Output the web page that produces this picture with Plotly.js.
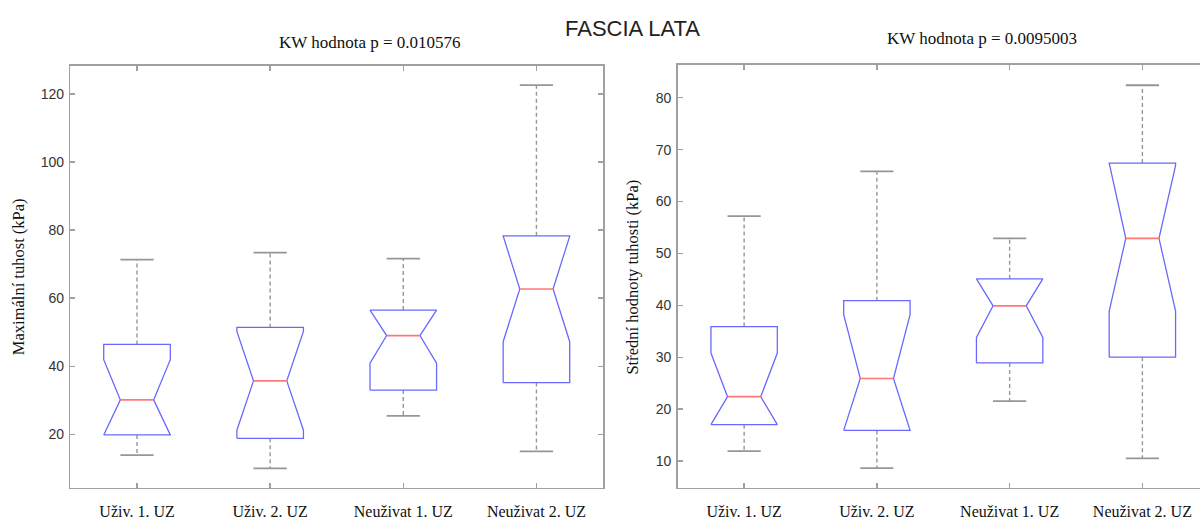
<!DOCTYPE html>
<html>
<head>
<meta charset="utf-8">
<script src="https://cdn.plot.ly/plotly-3.0.1.min.js"></script>
<style>html,body{margin:0;padding:0;background:#fff;}#chart{width:1200px;height:520px;}</style>
</head>
<body>
<div id="chart"></div>
<script>
// ---------- data ----------
const categories = ["Uživ. 1. UZ", "Uživ. 2. UZ", "Neuživat 1. UZ", "Neuživat 2. UZ"];
const positions = [1, 2, 3, 4];

// Left panel: Maximální tuhost (kPa)
const maxLow    = [13.9, 10.0, 25.4, 15.0];
const maxQ1     = [19.8, 18.8, 33.0, 35.2];
const maxMedian = [30.1, 35.7, 49.0, 62.7];
const maxQ3     = [46.4, 51.4, 56.5, 78.3];
const maxHigh   = [71.3, 73.4, 71.6, 122.6];
const maxNotch  = [11.8, 14.5, 8.1, 15.5];

// Right panel: Střední hodnoty tuhosti (kPa)
const meanLow    = [11.9, 8.65, 21.55, 10.5];
const meanQ1     = [17.0, 15.9, 28.9, 30.0];
const meanMedian = [22.4, 25.9, 39.9, 52.9];
const meanQ3     = [35.9, 40.9, 45.1, 67.4];
const meanHigh   = [57.2, 65.8, 52.9, 82.4];
const meanNotch  = [8.4, 12.3, 6.1, 14.0];

const maxTicks  = [20, 40, 60, 80, 100, 120];
const meanTicks = [10, 20, 30, 40, 50, 60, 70, 80];

const mainTitle = "FASCIA LATA";
const leftSubtitle = "KW hodnota p = 0.010576";
const rightSubtitle = "KW hodnota p = 0.0095003";
const leftYTitle = "Maximální tuhost (kPa)";
const rightYTitle = "Střední hodnoty tuhosti (kPa)";

// ---------- styles ----------
const BOX_HALF = 0.25, NOTCH_HALF = 0.125, CAP_HALF = 0.125;
const blue = "rgb(105,105,255)", red = "rgb(255,120,120)", gray = "rgb(150,150,150)";
const frame = "rgb(160,160,160)";
const serif = "Liberation Serif, Times New Roman, serif";
const sans = "Liberation Sans, Arial, sans-serif";

function panel(lo, q1, med, q3, hi, notch, xa, ya) {
  const wx = [], wy = [], cx = [], cy = [], mx = [], my = [], bx = [], by = [];
  positions.forEach((p, i) => {
    wx.push(p, p, null, p, p, null);
    wy.push(q3[i], hi[i], null, q1[i], lo[i], null);
    cx.push(p - CAP_HALF, p + CAP_HALF, null, p - CAP_HALF, p + CAP_HALF, null);
    cy.push(hi[i], hi[i], null, lo[i], lo[i], null);
    mx.push(p - NOTCH_HALF, p + NOTCH_HALF, null);
    my.push(med[i], med[i], null);
    const ln = Math.max(q1[i], med[i] - notch[i]);
    const un = Math.min(q3[i], med[i] + notch[i]);
    const L = p - BOX_HALF, R = p + BOX_HALF, nL = p - NOTCH_HALF, nR = p + NOTCH_HALF;
    bx.push(L, L, nL, L, L, R, R, nR, R, R, L, null);
    by.push(q1[i], ln, med[i], un, q3[i], q3[i], un, med[i], ln, q1[i], q1[i], null);
  });
  return [
    {type: "scatter", mode: "lines", x: wx, y: wy, xaxis: xa, yaxis: ya,
     line: {color: gray, width: 1.4, dash: "4px,3px"}, hoverinfo: "skip", showlegend: false},
    {type: "scatter", mode: "lines", x: bx, y: by, xaxis: xa, yaxis: ya,
     line: {color: blue, width: 1.3}, hoverinfo: "skip", showlegend: false},
    {type: "scatter", mode: "lines", x: mx, y: my, xaxis: xa, yaxis: ya,
     line: {color: red, width: 1.6}, hoverinfo: "skip", showlegend: false},
    {type: "scatter", mode: "lines", x: cx, y: cy, xaxis: xa, yaxis: ya,
     line: {color: gray, width: 1.8}, hoverinfo: "skip", showlegend: false}
  ];
}

const data = [].concat(
  panel(maxLow, maxQ1, maxMedian, maxQ3, maxHigh, maxNotch, "x", "y"),
  panel(meanLow, meanQ1, meanMedian, meanQ3, meanHigh, meanNotch, "x2", "y2")
);

const xCommon = {
  tickvals: positions, ticktext: categories, ticks: "inside", ticklen: 5, tickcolor: frame, tickwidth: 1.3,
  showline: true, linecolor: frame, linewidth: 1.6, showgrid: false, zeroline: false,
  tickfont: {family: serif, size: 16, color: "#111"}, ticklabelstandoff: 8, fixedrange: true
};
const yCommon = {
  ticks: "inside", ticklen: 5, tickcolor: frame, tickwidth: 1.3,
  showline: true, linecolor: frame, linewidth: 1.6, showgrid: false, zeroline: false,
  tickfont: {family: sans, size: 14, color: "#333"}, ticklabelstandoff: 2, fixedrange: true
};

const layout = {
  width: 1200, height: 520,
  margin: {l: 0, r: 0, t: 0, b: 0},
  paper_bgcolor: "#fff", plot_bgcolor: "#fff",
  showlegend: false,
  xaxis: Object.assign({}, xCommon, {domain: [0.0587, 0.5025], range: [0.5, 4.5], anchor: "y", mirror: "ticks"}),
  yaxis: Object.assign({}, yCommon, {domain: [0.0621, 0.8737], range: [4.3, 128.3], tickvals: maxTicks, anchor: "x", mirror: "ticks"}),
  xaxis2: Object.assign({}, xCommon, {domain: [0.5648, 1.0], range: [0.5, 4.434], anchor: "y2", mirror: "ticks"}),
  yaxis2: Object.assign({}, yCommon, {domain: [0.0621, 0.875], range: [4.86, 86.3], tickvals: meanTicks, anchor: "x2", mirror: false}),
  annotations: [
    {text: mainTitle, xref: "paper", yref: "paper", x: 0.5267, y: 0.946, showarrow: false,
     xanchor: "center", yanchor: "middle", font: {family: sans, size: 22, color: "#222"}},
    {text: leftSubtitle, xref: "paper", yref: "paper", x: 0.3083, y: 0.919, showarrow: false,
     xanchor: "center", yanchor: "middle", font: {family: serif, size: 17, color: "#111"}},
    {text: rightSubtitle, xref: "paper", yref: "paper", x: 0.818, y: 0.925, showarrow: false,
     xanchor: "center", yanchor: "middle", font: {family: serif, size: 17, color: "#111"}},
    {text: leftYTitle, xref: "paper", yref: "paper", x: 0.015, y: 0.467, textangle: -90, showarrow: false,
     xanchor: "center", yanchor: "middle", font: {family: serif, size: 16.5, color: "#111"}},
    {text: rightYTitle, xref: "paper", yref: "paper", x: 0.527, y: 0.467, textangle: -90, showarrow: false,
     xanchor: "center", yanchor: "middle", font: {family: serif, size: 16.5, color: "#111"}}
  ]
};

Plotly.newPlot("chart", data, layout, {staticPlot: true, displayModeBar: false});
</script>
</body>
</html>
